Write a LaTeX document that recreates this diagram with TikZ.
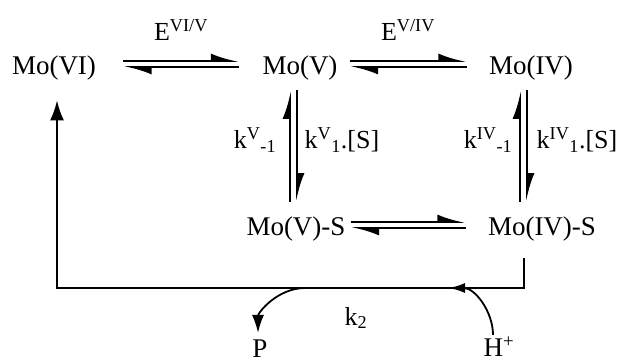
\documentclass[tikz,border=0pt]{standalone}
\usepackage{fontspec}
\setmainfont{Liberation Serif}
\usetikzlibrary{arrows.meta}

\tikzstyle{species} = [inner sep=0pt, font=\fontsize{27}{32}\selectfont]
\tikzstyle{rate} = [inner sep=0pt, font=\fontsize{26}{30}\selectfont]
\tikzstyle{halfarrow} = [draw, line width=1.8pt, -{Latex[left,length=24pt,width=15pt]}]
\tikzstyle{fullarrow} = [draw, line width=1.8pt, -{Latex[length=20pt,width=14pt]}]

\begin{document}
\begin{tikzpicture}[x=1pt,y=-1pt]
  \useasboundingbox (0,0) rectangle (622,364);
  % species
  \foreach \nodename/\x/\y/\value in {
    vi/54/68/Mo(VI), v/300/68/Mo(V), iv/531/68/Mo(IV),
    vs/296/229/Mo(V)-S, ivs/542/229/Mo(IV)-S,
    p/260/349/P, h/499/347/{H\textsuperscript{+}}}
  {
    \node[species] (\nodename) at (\x,\y) {\value};
  };
  % rate labels
  \foreach \nodename/\x/\y/\value in {
    evi/181/30/{E\textsuperscript{VI/V}}, ev/408/30/{E\textsuperscript{V/IV}},
    kvb/255/140/{k\textsuperscript{V}\textsubscript{-1}},
    kvf/342/140/{k\textsuperscript{V}\textsubscript{1}.[S]},
    kivb/488/140/{k\textsuperscript{IV}\textsubscript{-1}},
    kivf/577/140/{k\textsuperscript{IV}\textsubscript{1}.[S]},
    ktwo/356/318/{k\textsubscript{2}}}
  {
    \node[rate] (\nodename) at (\x,\y) {\value};
  };
  % horizontal equilibria
  \path
  \foreach \sa/\sb/\gapa/\gapb in {vi/v/27/23, v/iv/12/22, vs/ivs/5/22}
  {
    ([yshift=7pt]\sa.east) edge[halfarrow, shorten <=\gapa pt, shorten >=\gapb pt] ([yshift=7pt]\sb.west)
    ([yshift=1pt]\sb.west) edge[halfarrow, shorten <=\gapb pt, shorten >=\gapa pt] ([yshift=1pt]\sa.east)
  };
  % vertical equilibria
  \path
  \foreach \sa/\sb/\dxa/\dxb in {v/vs/-10/-3, iv/ivs/-11/-4}
  {
    ([xshift=\dxa]\sa.south |- \sb.north) edge[halfarrow, shorten <=15pt, shorten >=10pt] ([xshift=\dxa]\sa.south)
    ([xshift=\dxb]\sa.south) edge[halfarrow, shorten <=10pt, shorten >=15pt] ([xshift=\dxb]\sa.south |- \sb.north)
  };
  % return to Mo(VI)
  \coordinate (bl) at (57,288);
  \coordinate (split) at (305,288);
  \coordinate (join) at (449,288);
  \draw[fullarrow, shorten <=17pt, shorten >=20pt] ([xshift=-18pt]ivs.south) |- (bl) -- (bl |- vi.south);
  \draw[line width=1.8pt, -{Latex[length=18pt,width=12pt]}, shorten >=7pt] (split) to[out=180,in=90] ([xshift=-2pt]p.north);
  \draw[line width=1.8pt, -{Latex[length=16pt,width=10pt]}, shorten <=2pt] ([xshift=-6pt]h.north) to[out=90,in=0] (join);
\end{tikzpicture}
\end{document}
